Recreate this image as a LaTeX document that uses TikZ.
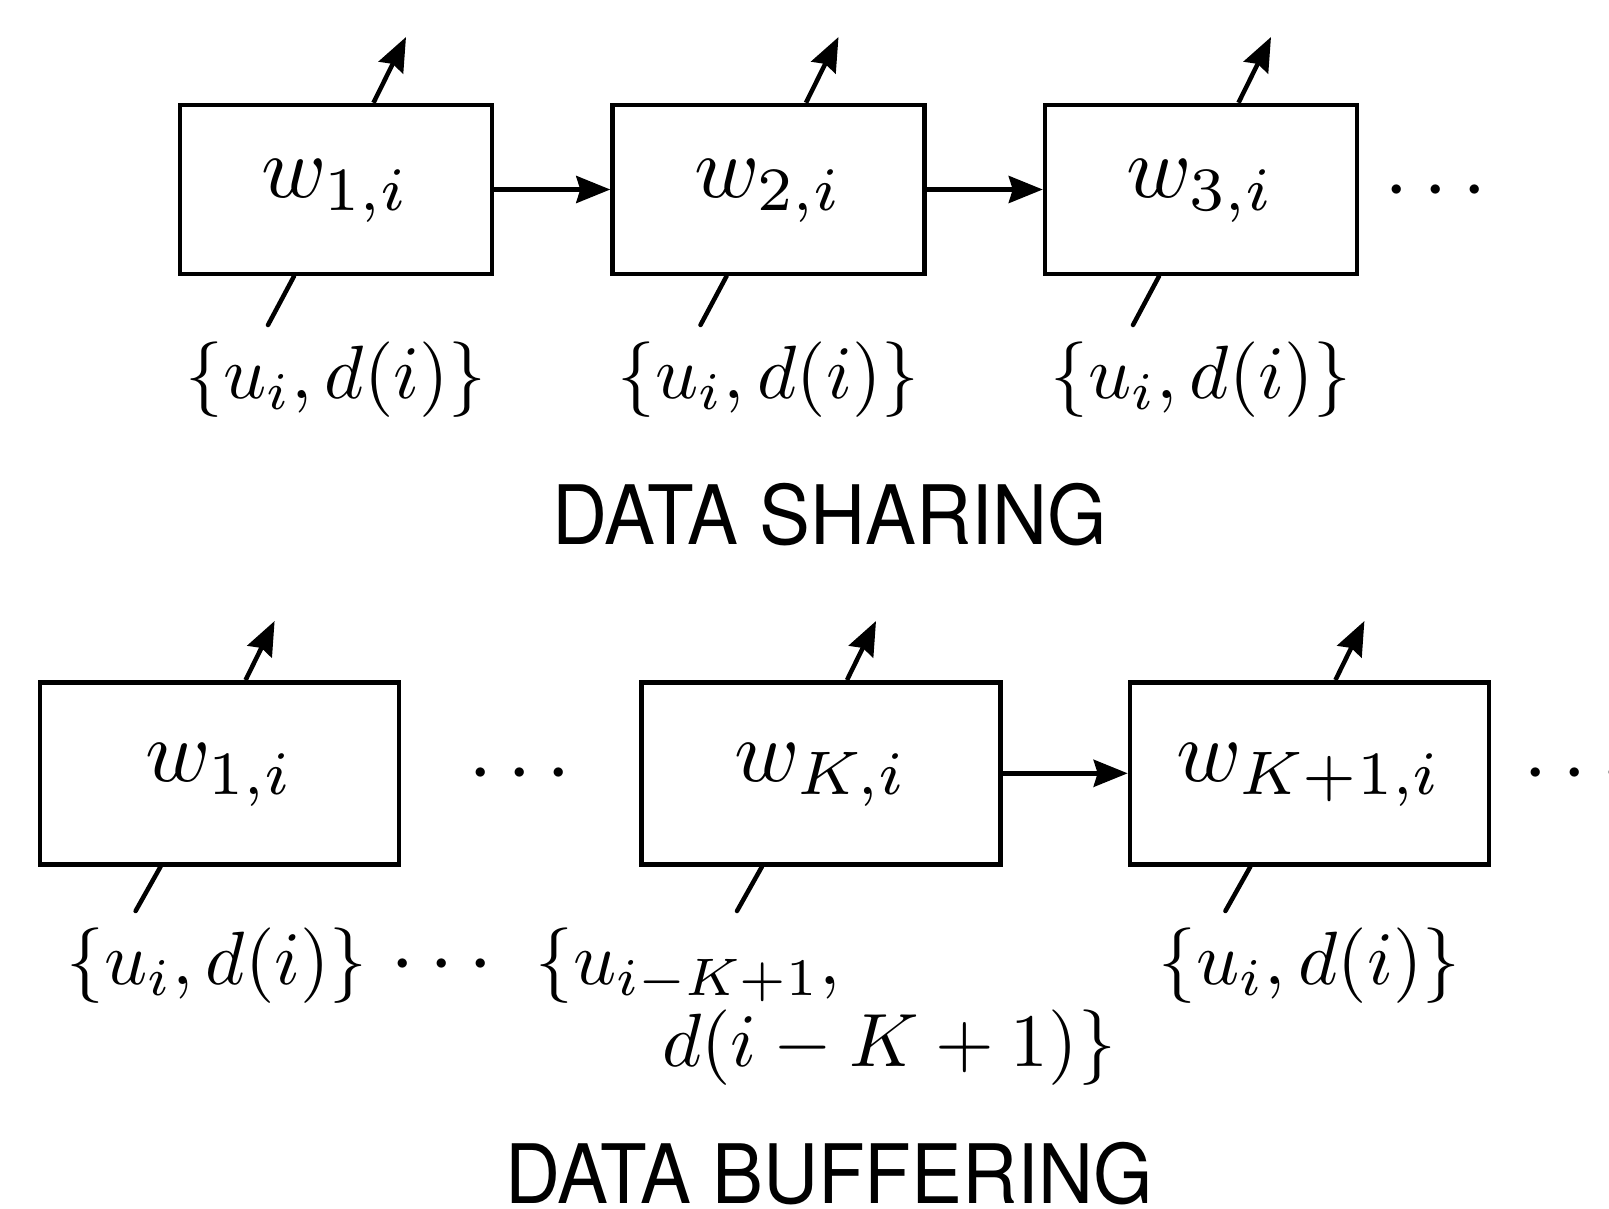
\documentclass[tikz,border=0pt]{standalone}
\usepackage[no-math]{fontspec}
\usepackage{graphicx}
\newfontfamily\capfont{TeX Gyre Heros}
\usetikzlibrary{arrows.meta}
\newcommand{\bigw}[1]{\scalebox{8.8}{$#1$}}
\newcommand{\lab}[1]{\scalebox{7.55}{$#1$}}
\begin{document}
\begin{tikzpicture}[x=1pt,y=-1pt,
  line width=4.5pt,
  topbox/.style={draw, rectangle, inner sep=0pt, minimum width=312pt, minimum height=169pt},
  botbox/.style={draw, rectangle, inner sep=0pt, minimum width=359pt, minimum height=182pt},
  wlab/.style={anchor=base, inner sep=0pt},
  dlab/.style={anchor=base, inner sep=0pt},
  dlabw/.style={anchor=base west, inner sep=0pt},
  title/.style={anchor=base, inner sep=0pt, font=\capfont\fontsize{82}{90}\selectfont},
  arr/.style={-{Stealth[length=34pt,width=27pt,inset=4pt]}},
  feed/.style={line cap=round},
]
\useasboundingbox (0,0) rectangle (1609,1208);

% ---------- DATA SHARING ----------
\node[topbox] (b1) at (336,189.5) {};
\node[topbox] (b2) at (768.5,189.5) {};
\node[topbox] (b3) at (1201,189.5) {};
\node[wlab] (w1) at (336,197) {\bigw{w_{1,i}}};
\node[wlab] (w2) at (768.5,197) {\bigw{w_{2,i}}};
\node[wlab] (w3) at (1201,197) {\bigw{w_{3,i}}};
\node[wlab] (tdots) at (1436,211) {\bigw{\cdots}};
\draw[arr] (b1) -- (b2);
\draw[arr] (b2) -- (b3);

\coordinate (o1) at (406,37);
\coordinate (o2) at (838.5,37);
\coordinate (o3) at (1271,37);
\draw[arr] ([xshift=37.5pt]b1.north) -- (o1);
\draw[arr] ([xshift=37.5pt]b2.north) -- (o2);
\draw[arr] ([xshift=37.5pt]b3.north) -- (o3);

\coordinate (i1) at (268,325);
\coordinate (i2) at (700.5,325);
\coordinate (i3) at (1133,325);
\draw[feed] ([xshift=-42pt]b1.south) -- (i1);
\draw[feed] ([xshift=-42pt]b2.south) -- (i2);
\draw[feed] ([xshift=-42pt]b3.south) -- (i3);

\node[dlab] (l1) at (336,398) {\lab{\{u_i, d(i)\}}};
\node[dlab] (l2) at (768.5,398) {\lab{\{u_i, d(i)\}}};
\node[dlab] (l3) at (1201,398) {\lab{\{u_i, d(i)\}}};

\node[title] (t1) at (829.5,544) {\scalebox{0.93}[1]{DATA SHARING}};

% ---------- DATA BUFFERING ----------
\node[botbox] (c1) at (219.6,773.3) {};
\node[botbox] (cK) at (821,773.3) {};
\node[botbox] (cL) at (1309.4,773.3) {};
\node[wlab] (v1) at (219.6,781) {\bigw{w_{1,i}}};
\node[wlab] (vK) at (821,781) {\bigw{w_{K,i}}};
\node[wlab] (vL) at (1309.4,781) {\bigw{w_{K+1,i}}};
\node[wlab] (mdots) at (520,794) {\bigw{\cdots}};
\node[wlab] (rdots) at (1575,794) {\bigw{\cdots}};
\draw[arr] (cK) -- (cL);

\coordinate (p1) at (274.6,621);
\coordinate (pK) at (876,621);
\coordinate (pL) at (1364.4,621);
\draw[arr] ([xshift=26pt]c1.north) -- (p1);
\draw[arr] ([xshift=26pt]cK.north) -- (pK);
\draw[arr] ([xshift=26pt]cL.north) -- (pL);

\coordinate (q1) at (135.6,911);
\coordinate (qK) at (737,911);
\coordinate (qL) at (1225.4,911);
\draw[feed] ([xshift=-59pt]c1.south) -- (q1);
\draw[feed] ([xshift=-59pt]cK.south) -- (qK);
\draw[feed] ([xshift=-59pt]cL.south) -- (qL);

\node[dlab] (m1) at (217,984) {\lab{\{u_i, d(i)\}}};
\node[wlab] (ldots) at (442,985) {\bigw{\cdots}};
\node[dlabw] (mKa) at (533.5,984) {\lab{\{u_{i-K+1},}};
\node[dlabw] (mKb) at (660,1066) {\lab{d(i-K+1)\}}};
\node[dlab] (mL) at (1309.4,984) {\lab{\{u_i, d(i)\}}};

\node[title] (t2) at (829,1203) {\scalebox{0.93}[1]{DATA BUFFERING}};
\end{tikzpicture}
\end{document}
